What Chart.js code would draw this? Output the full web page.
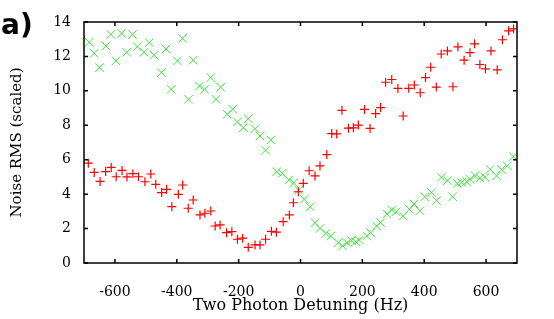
<!DOCTYPE html>
<html>
<head>
<meta charset="utf-8">
<script src="https://cdn.jsdelivr.net/npm/chart.js@4"></script>
<style>
  html, body { margin: 0; padding: 0; background: #fff; }
  #wrap { width: 554px; height: 319px; }
</style>
</head>
<body>
<div id="wrap"><canvas id="chart" width="554" height="319"></canvas></div>
<script>
// Red "+" series (detuning Hz, noise RMS)
const redX = [-686, -667, -648, -630, -612, -596, -577, -561, -542, -524, -503, -484, -468, -449, -433,
  -416, -395, -381, -363, -347, -325, -309, -290, -276, -260, -239, -222, -204, -187, -169, -147, -131,
  -113, -94, -78, -56, -36, -23, -7, 9, 28, 47, 63, 85, 101, 117, 134, 155, 171, 187, 207, 225, 243,
  259, 275, 295, 315, 332, 350, 368, 387, 404, 421, 439, 455, 475, 493, 509, 529, 548, 563, 580, 598,
  616, 636, 653, 673, 689];
const redY = [5.8, 5.26, 4.74, 5.31, 5.55, 5.01, 5.38, 5.0, 5.19, 5.01, 4.72, 5.17, 4.57, 4.09, 4.28,
  3.27, 3.99, 4.53, 3.18, 3.66, 2.79, 2.89, 3.02, 2.15, 2.21, 1.76, 1.82, 1.38, 1.44, 0.91, 1.05, 1.05,
  1.38, 1.84, 1.79, 2.4, 2.79, 3.5, 4.14, 4.63, 5.36, 5.06, 5.64, 6.3, 7.52, 7.5, 8.87, 7.83, 7.85, 8.01,
  8.92, 7.82, 8.68, 9.03, 10.5, 10.66, 10.14, 8.54, 10.15, 10.34, 9.89, 10.77, 11.37, 10.22, 12.14, 12.32,
  10.24, 12.55, 11.78, 12.22, 12.73, 11.53, 11.28, 12.32, 11.22, 12.97, 13.49, 13.6];

// Green "x" series
const greenX = [-683, -667, -650, -629, -613, -597, -578, -562, -543, -528, -506, -489, -473, -450, -435,
  -418, -398, -381, -362, -347, -327, -310, -290, -273, -258, -237, -219, -204, -185, -169, -147, -131,
  -113, -96, -77, -59, -38, -22, -6, 12, 31, 47, 63, 82, 98, 122, 136, 151, 165, 179, 190, 214, 227,
  246, 259, 279, 295, 309, 332, 352, 367, 386, 402, 424, 440, 456, 475, 492, 507, 521, 537, 548, 564,
  580, 597, 613, 634, 650, 669, 688];
const greenY = [12.82, 12.18, 11.35, 12.61, 13.28, 11.74, 13.34, 12.24, 13.27, 12.57, 12.24, 12.8, 12.07,
  11.06, 12.43, 10.09, 11.74, 13.05, 9.51, 11.78, 10.28, 10.09, 10.77, 9.51, 10.21, 8.64, 8.93, 8.19,
  7.86, 8.38, 7.8, 7.38, 6.55, 7.15, 5.3, 5.21, 4.82, 4.65, 4.24, 3.7, 3.27, 2.34, 2.01, 1.72, 1.57,
  1.18, 0.99, 1.18, 1.3, 1.24, 1.34, 1.57, 1.76, 2.15, 2.34, 2.85, 3.08, 2.98, 2.73, 3.12, 3.43, 3.04,
  3.85, 4.09, 3.62, 4.98, 4.78, 3.85, 4.63, 4.69, 4.72, 4.86, 5.07, 4.94, 4.98, 5.44, 5.06, 5.44, 5.64, 6.18];

const xTicks = [-600, -400, -200, 0, 200, 400, 600];
const yTicks = [0, 2, 4, 6, 8, 10, 12, 14];

const serif = '"DejaVu Serif", "Liberation Serif", serif';

// box round the plot with inward tick marks, plus the panel label
const framePlugin = {
  id: 'frame',
  afterDatasetsDraw(chart) {
    const { ctx, chartArea: a, scales: { x, y } } = chart;
    ctx.save();
    ctx.strokeStyle = '#000';
    ctx.lineWidth = 1.5;
    ctx.strokeRect(a.left, a.top, a.right - a.left, a.bottom - a.top);
    ctx.beginPath();
    xTicks.forEach(v => {
      const px = x.getPixelForValue(v);
      ctx.moveTo(px, a.bottom); ctx.lineTo(px, a.bottom - 4);
      ctx.moveTo(px, a.top); ctx.lineTo(px, a.top + 4);
    });
    yTicks.forEach(v => {
      const py = y.getPixelForValue(v);
      ctx.moveTo(a.left, py); ctx.lineTo(a.left + 4, py);
      ctx.moveTo(a.right, py); ctx.lineTo(a.right - 4, py);
    });
    ctx.stroke();
    ctx.fillStyle = '#000';
    ctx.font = 'bold 28px "DejaVu Sans"';
    ctx.textBaseline = 'alphabetic';
    ctx.fillText('a)', 1, 34);
    ctx.restore();
  }
};

const toPoints = (xs, ys) => xs.map((v, i) => ({ x: v, y: ys[i] }));

new Chart(document.getElementById('chart'), {
  type: 'scatter',
  data: {
    datasets: [
      {
        label: 'red',
        data: toPoints(redX, redY),
        pointStyle: 'cross',
        pointRadius: 4.5,
        borderColor: 'rgb(255, 0, 0)',
        borderWidth: 1.2
      },
      {
        label: 'green',
        data: toPoints(greenX, greenY),
        pointStyle: 'crossRot',
        pointRadius: 6,
        borderColor: 'rgb(60, 225, 60)',
        borderWidth: 1
      }
    ]
  },
  options: {
    responsive: false,
    animation: false,
    layout: { padding: { left: 0, top: 22, right: 37, bottom: 0 } },
    plugins: {
      legend: { display: false },
      tooltip: { enabled: false }
    },
    scales: {
      x: {
        type: 'linear',
        min: -700,
        max: 700,
        afterBuildTicks: s => { s.ticks = xTicks.map(v => ({ value: v })); },
        afterFit: s => { s.height = 56; },
        grid: { display: false },
        border: { display: false },
        ticks: {
          padding: 13,
          color: '#000',
          font: { family: serif, size: 14 },
          callback: v => String(v)
        },
        title: {
          display: true,
          text: 'Two Photon Detuning (Hz)',
          color: '#000',
          font: { family: serif, size: 16 },
          padding: { top: 0, bottom: 4 }
        }
      },
      y: {
        type: 'linear',
        min: 0,
        max: 14,
        afterBuildTicks: s => { s.ticks = yTicks.map(v => ({ value: v })); },
        afterFit: s => { s.width = 84; },
        grid: { display: false },
        border: { display: false },
        ticks: {
          padding: 5,
          color: '#000',
          font: { family: serif, size: 14 }
        },
        title: {
          display: true,
          text: 'Noise RMS (scaled)',
          color: '#000',
          font: { family: serif, size: 15 },
          padding: { top: 8, bottom: 0 }
        }
      }
    }
  },
  plugins: [framePlugin]
});
</script>
</body>
</html>
